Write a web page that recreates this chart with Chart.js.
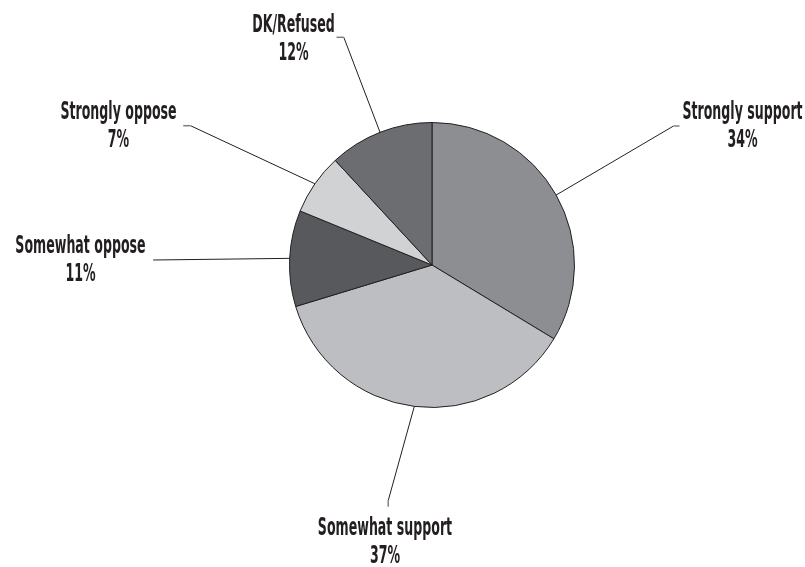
<!DOCTYPE html>
<html>
<head>
<meta charset="utf-8">
<script src="https://cdn.jsdelivr.net/npm/chart.js@4/dist/chart.umd.min.js"></script>
<style>
  html, body { margin: 0; padding: 0; background: #fff; }
  #wrap { width: 805px; height: 567px; }
</style>
</head>
<body>
<div id="wrap"><canvas id="pieChart" width="805" height="567"></canvas></div>
<script>
// survey answers, clockwise from 12 o'clock
const categories = ["Strongly support", "Somewhat support", "Somewhat oppose", "Strongly oppose", "DK/Refused"];
const shares = [34, 37, 11, 7, 12];
const sliceColors = ["#8d8e91", "#bdbec1", "#58595c", "#d1d2d4", "#6c6d71"];

// where each callout sits, relative to the pie centre
// elbow = end of leader, tick = short stub after it, tx = text centre, by = first baseline
const callouts = [
  { elbow: [241.5, -139], tick: [247.5, -139], tx: 310.5, by: -145.7 },
  { elbow: [-43.8, 235.7], tick: [-43.8, 241.7], tx: -47, by: 270 },
  { elbow: [-278.8, -5], tick: null, tx: -351.5, by: -11.7 },
  { elbow: [-241.5, -139.3], tick: [-248.8, -139.3], tx: -313.5, by: -145.7 },
  { elbow: [-88.2, -227.7], tick: [-95.5, -227.7], tx: -138.5, by: -233.3 }
];

const FONT = "bold 25px 'DejaVu Sans Condensed', 'DejaVu Sans', sans-serif";
const SQUEEZE = 0.56;
const LINE_GAP = 27.8;

function squeezedText(ctx, str, x, y) {
  ctx.save();
  ctx.translate(x, y);
  ctx.scale(SQUEEZE, 1);
  ctx.fillText(str, 0, 0);
  ctx.restore();
}

const calloutPlugin = {
  id: "callouts",
  afterDraw(chart) {
    const ctx = chart.ctx;
    const arcs = chart.getDatasetMeta(0).data;
    ctx.save();
    arcs.forEach((arc, i) => {
      const c = callouts[i];
      const cx = arc.x, cy = arc.y;
      const mid = (arc.startAngle + arc.endAngle) / 2;
      const sx = cx + Math.cos(mid) * arc.outerRadius;
      const sy = cy + Math.sin(mid) * arc.outerRadius;

      ctx.strokeStyle = "#231f20";
      ctx.lineWidth = 1;
      ctx.beginPath();
      ctx.moveTo(sx, sy);
      ctx.lineTo(cx + c.elbow[0], cy + c.elbow[1]);
      ctx.stroke();

      if (c.tick) {
        ctx.strokeStyle = "#808080";
        ctx.lineWidth = 1.5;
        ctx.beginPath();
        ctx.moveTo(cx + c.elbow[0], cy + c.elbow[1]);
        ctx.lineTo(cx + c.tick[0], cy + c.tick[1]);
        ctx.stroke();
      }

      ctx.fillStyle = "#231f20";
      ctx.font = FONT;
      ctx.textAlign = "center";
      ctx.textBaseline = "alphabetic";
      squeezedText(ctx, categories[i], cx + c.tx, cy + c.by);
      squeezedText(ctx, shares[i] + "%", cx + c.tx, cy + c.by + LINE_GAP);
    });
    ctx.restore();
  }
};

new Chart(document.getElementById("pieChart"), {
  type: "pie",
  data: {
    labels: categories,
    datasets: [{
      data: shares,
      backgroundColor: sliceColors,
      borderColor: "#231f20",
      borderWidth: 1,
      hoverOffset: 0,
      offset: 0
    }]
  },
  options: {
    responsive: false,
    animation: false,
    events: [],
    layout: { padding: { left: 289, right: 230, top: 122, bottom: 159 } },
    plugins: {
      legend: { display: false },
      tooltip: { enabled: false }
    }
  },
  plugins: [calloutPlugin]
});
</script>
</body>
</html>
